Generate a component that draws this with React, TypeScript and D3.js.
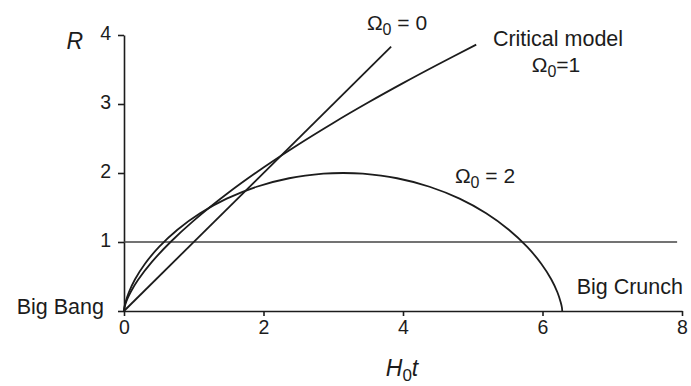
import React, { useEffect, useRef } from "react";
import * as d3 from "d3";

// tick values
const xTicks = [0, 2, 4, 6, 8];
const yTicks = [0, 1, 2, 3, 4];

// Omega_0 = 0 : empty model, straight line
const emptyT = [0, 3.83];
const emptyR = [0, 3.83];

// critical model, Omega_0 = 1
const critT = [0, 0.005, 0.02, 0.05, 0.1, 0.2, 0.4, 0.667, 1, 1.5, 2, 2.5, 3, 3.5, 4, 4.5, 5.05];
const critR = [0, 0.038, 0.097, 0.178, 0.282, 0.448, 0.711, 1.0, 1.31, 1.717, 2.08, 2.414, 2.726, 3.021, 3.302, 3.572, 3.86];

// closed model, Omega_0 = 2 (recollapses)
const closedT = [0, 0.0045, 0.0206, 0.0684, 0.1585, 0.301, 0.5025, 0.766, 1.091, 1.472, 1.902, 2.368, 2.859, 3.142,
  3.424, 3.915, 4.381, 4.811, 5.192, 5.517, 5.781, 5.982, 6.125, 6.215, 6.262, 6.279, 6.283];
const closedR = [0, 0.045, 0.122, 0.268, 0.46, 0.685, 0.929, 1.178, 1.416, 1.628, 1.801, 1.924, 1.99, 2.0,
  1.99, 1.924, 1.801, 1.628, 1.416, 1.178, 0.929, 0.685, 0.46, 0.268, 0.122, 0.045, 0];

// reference line R = 1
const unitT = [0, 7.93];
const unitR = [1, 1];

const W = 691;
const H = 386;
const font = "'Liberation Sans', Arial, Helvetica, sans-serif";
const ink = "#1c1c1c";

export default function App() {
  const ref = useRef<SVGSVGElement>(null);

  useEffect(() => {
    const svg = d3.select(ref.current);
    svg.selectAll("*").remove();

    const x = d3.scaleLinear().domain([0, 8]).range([124, 682]);
    const y = d3.scaleLinear().domain([0, 4]).range([311, 35]);

    const line = d3.line<[number, number]>()
      .x(d => x(d[0]))
      .y(d => y(d[1]))
      .curve(d3.curveCatmullRom.alpha(0.5));

    const pts = (ts: number[], rs: number[]) => ts.map((t, i) => [t, rs[i]] as [number, number]);

    // axes
    const yAxis = d3.axisLeft(y).tickValues(yTicks).tickSize(6).tickSizeOuter(0).tickPadding(7)
      .tickFormat(d => (d === 0 ? "" : String(d)));
    const gy = svg.append("g").attr("transform", `translate(${x(0)},0)`).call(yAxis);
    gy.attr("font-family", font).attr("font-size", 19.5);
    gy.selectAll("line, path").attr("stroke", ink).attr("stroke-width", 1.6);
    gy.selectAll("text").attr("fill", ink).attr("dy", "0.25em");

    const xAxis = d3.axisBottom(x).tickValues(xTicks).tickSize(5).tickSizeOuter(0).tickPadding(4);
    const gx = svg.append("g").attr("transform", `translate(0,${y(0)})`).call(xAxis);
    gx.attr("font-family", font).attr("font-size", 19.5);
    gx.selectAll("line, path").attr("stroke", ink).attr("stroke-width", 1.6);
    gx.selectAll("text").attr("fill", ink);

    // R = 1 line
    svg.append("path").attr("d", line(pts(unitT, unitR)))
      .attr("fill", "none").attr("stroke", "#444").attr("stroke-width", 1.4);

    // curves
    [pts(emptyT, emptyR), pts(critT, critR), pts(closedT, closedR)].forEach(p => {
      svg.append("path").attr("d", line(p))
        .attr("fill", "none").attr("stroke", ink).attr("stroke-width", 1.8);
    });

    // labels
    const label = (tx: number, ty: number, anchor: string, size = 21.5, italic = false) =>
      svg.append("text").attr("x", tx).attr("y", ty).attr("text-anchor", anchor)
        .attr("font-family", font).attr("font-size", size).attr("fill", ink)
        .attr("font-style", italic ? "italic" : "normal");

    const omega = (tx: number, ty: number, anchor: string, rest: string) => {
      const t = label(tx, ty, anchor, 21);
      t.append("tspan").text("Ω");
      t.append("tspan").attr("font-size", 16).attr("dy", 5).text("0");
      t.append("tspan").attr("dy", -5).text(rest);
    };

    label(83, 49, "end", 23, true).text("R");

    const ht = label(402, 376, "middle", 23, true);
    ht.append("tspan").text("H");
    ht.append("tspan").attr("font-size", 17).attr("font-style", "normal").attr("dy", 5).text("0");
    ht.append("tspan").attr("dy", -5).text("t");

    label(104, 314, "end").text("Big Bang");
    label(683, 294, "end").text("Big Crunch");
    label(558, 46, "middle").text("Critical model");

    omega(397, 30, "middle", " = 0");
    omega(556, 72, "middle", "=1");
    omega(485, 183, "middle", " = 2");
  }, []);

  return (
    <svg ref={ref} width={W} height={H} viewBox={`0 0 ${W} ${H}`}
      style={{ position: "absolute", left: 0, top: 0, background: "#fff" }} />
  );
}
